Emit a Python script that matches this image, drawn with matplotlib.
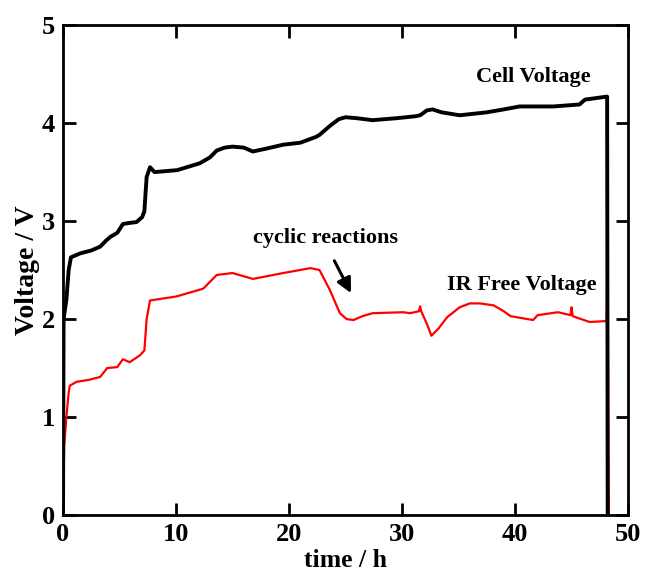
import matplotlib
matplotlib.use("Agg")
import matplotlib.pyplot as plt

# cell voltage (black)
t_cell = [0.0, 0.05, 0.3, 0.5, 0.7, 1.5, 2.5, 3.3, 3.8, 4.2, 4.8, 5.3, 5.8, 6.5, 7.0, 7.2,
          7.4, 7.7, 8.1, 10.1, 12.1, 13.0, 13.6, 14.3, 15.0, 16.0, 16.8, 18.0, 19.5, 21.0,
          22.4, 22.7, 23.6, 24.4, 25.0, 26.0, 27.4, 29.5, 31.2, 31.6, 32.2, 32.7, 33.5,
          35.1, 37.5, 39.0, 40.4, 43.4, 45.7, 46.2, 48.1, 48.15, 48.2]
v_cell = [0.0, 2.0, 2.2, 2.5, 2.63, 2.67, 2.7, 2.74, 2.8, 2.84, 2.88, 2.97, 2.98, 2.99, 3.04,
          3.1, 3.45, 3.55, 3.5, 3.52, 3.59, 3.65, 3.72, 3.75, 3.76, 3.75, 3.71, 3.74, 3.78,
          3.8, 3.86, 3.88, 3.97, 4.04, 4.06, 4.05, 4.03, 4.05, 4.07, 4.08, 4.13, 4.14, 4.11,
          4.08, 4.11, 4.14, 4.17, 4.17, 4.19, 4.24, 4.27, 4.27, 0.0]

# IR free voltage (red)
t_ir = [0.0, 0.1, 0.3, 0.5, 0.6, 1.2, 2.3, 3.3, 3.9, 4.8, 5.3, 5.9, 6.8, 7.2, 7.4, 7.7,
        10.0, 12.4, 13.0, 13.6, 15.0, 16.8, 19.5, 21.9, 22.7, 23.6, 24.5, 25.1, 25.7, 26.5,
        27.4, 30.1, 30.7, 31.5, 31.6, 31.7, 32.2, 32.6, 33.2, 34.0, 35.1, 36.0, 36.9, 38.1,
        39.0, 39.6, 41.6, 42.0, 43.8, 44.9, 45.0, 45.1, 46.6, 48.1, 48.2, 48.25, 48.3]
v_ir = [0.0, 0.7, 1.0, 1.25, 1.32, 1.36, 1.38, 1.41, 1.5, 1.51, 1.59, 1.56, 1.63, 1.68, 2.0,
        2.19, 2.23, 2.31, 2.38, 2.45, 2.47, 2.41, 2.47, 2.52, 2.5, 2.3, 2.06, 2.0, 1.99, 2.03,
        2.06, 2.07, 2.06, 2.08, 2.13, 2.08, 1.95, 1.83, 1.9, 2.02, 2.12, 2.16, 2.16, 2.14,
        2.08, 2.03, 1.99, 2.04, 2.07, 2.04, 2.12, 2.03, 1.97, 1.98, 2.72, 1.0, 0.0]

plt.rcParams['font.family'] = ['Liberation Serif', 'DejaVu Serif']
plt.rcParams['font.weight'] = 'bold'

fig = plt.figure(figsize=(6.45, 5.71), dpi=100)
ax = fig.add_axes([0.0977, 0.098, 0.876, 0.858])

ax.plot(t_ir, v_ir, color='red', linewidth=1.6)
ax.plot(t_cell, v_cell, color='black', linewidth=2.8)

ax.set_xlim(0, 50)
ax.set_ylim(0, 5)
ax.set_xticks([0, 10, 20, 30, 40, 50])
ax.set_yticks([0, 1, 2, 3, 4, 5])
ax.tick_params(direction='in', length=9, width=2, labelsize=19, pad=6,
               top=True, right=True)
for s in ax.spines.values():
    s.set_linewidth(2)
for lab in ax.get_xticklabels() + ax.get_yticklabels():
    lab.set_fontweight('bold')

ax.set_xlabel("time / h", fontsize=18.5, fontweight='bold', labelpad=2)
ax.set_ylabel("Voltage / V", fontsize=20, fontweight='bold', labelpad=1)

ax.text(41.6, 4.47, "Cell Voltage", fontsize=16, fontweight='bold', ha='center', va='center')
ax.text(40.6, 2.35, "IR Free Voltage", fontsize=16, fontweight='bold', ha='center', va='center')
ax.text(23.2, 2.83, "cyclic reactions", fontsize=16, fontweight='bold', ha='center', va='center')
ax.annotate("", xy=(25.6, 2.24), xytext=(23.9, 2.62),
            arrowprops=dict(arrowstyle='-|>', color='black', lw=2.2, mutation_scale=22))

plt.savefig("out.png", dpi=100)
plt.close()
